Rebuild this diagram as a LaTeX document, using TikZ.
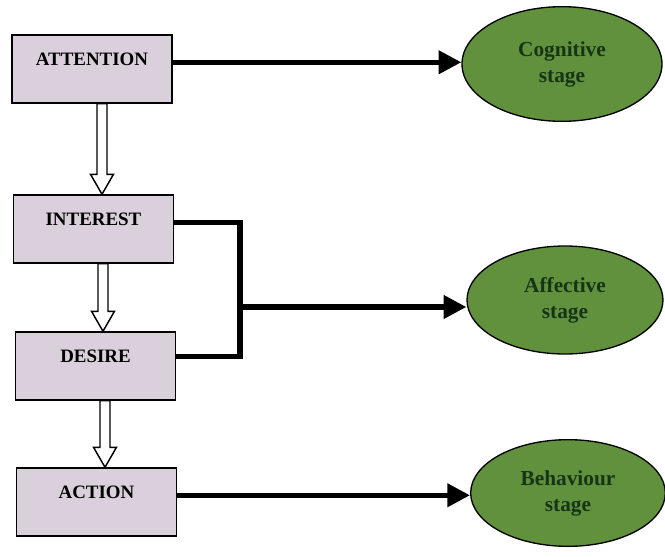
\documentclass[tikz,border=0pt]{standalone}
\usepackage{fontspec}
\setmainfont{Liberation Serif}
\usetikzlibrary{shapes.geometric,arrows.meta,calc}

\definecolor{boxfill}{RGB}{218,208,220}
\definecolor{stagefill}{RGB}{98,145,62}
\definecolor{stagetext}{RGB}{22,52,22}

\tikzset{every picture/.style={line width=0.75pt}}

\begin{document}
\begin{tikzpicture}[x=0.75pt,y=0.75pt,yscale=-1,xscale=1,
  step box/.style={draw, fill=boxfill, line width=1.1pt, minimum width=120pt, minimum height=51pt,
    inner sep=0pt, font=\bfseries\fontsize{14.2}{17}\selectfont, text height=10pt, text depth=15.5pt},
  stage/.style={ellipse, draw, fill=stagefill, line width=1pt, inner sep=0pt, align=center,
    text=stagetext, font=\bfseries\fontsize{16}{19.5}\selectfont},
  link/.style={line width=3.8pt},
  tip/.style={link, -{Triangle[length=17pt,width=17pt]}},
  hollow/.style={draw, fill=white, line width=1.1pt, to path={
    ($(\tikztotarget |- \tikztostart)+(#1+5,0)$) -- ($(\tikztotarget)+(#1+5,-20)$)
    -- ($(\tikztotarget)+(#1+11.5,-20)$) -- ($(\tikztotarget)+(#1,0)$)
    -- ($(\tikztotarget)+(#1-11.5,-20)$) -- ($(\tikztotarget)+(#1-5,-20)$)
    -- ($(\tikztotarget |- \tikztostart)+(#1-5,0)$) -- cycle}}]
%set diagram frame: 665 x 557
\useasboundingbox (0,0) rectangle (665,557);

%Shape: Rectangle (steps)
\node [step box] (att) at (92,69) {ATTENTION};
\node [step box] (int) at (93.5,229) {INTEREST};
\node [step box] (des) at (95.5,366) {DESIRE};
\node [step box] (act) at (96.5,502) {ACTION};

%Shape: Ellipse (stages)
\node [stage, minimum width=150pt, minimum height=86pt] (cog) at (562,64) {Cognitive\\stage};
\node [stage, minimum width=147pt, minimum height=81pt] (aff) at (565,300) {Affective\\stage};
\node [stage, minimum width=146pt, minimum height=80pt] (beh) at (568,493) {Behaviour\\stage};

%Hollow arrows between steps
\path [hollow=8.5] (att.south) to (int.north);
\path [hollow=7.5] (int.south) to (des.north);
\path [hollow=8.5] (des.south) to (act.north);

%Bracket joining interest and desire
\coordinate (jn) at (240,307);
\draw [link] (int.mid east) -| (jn) |- ([yshift=-7pt]des.east);

%Thick arrows to stages
\draw [tip] (att.mid east) -- (att.mid east -| cog.west);
\draw [tip] (jn) -- (jn -| aff.west);
\draw [tip] (act.mid east) -- (act.mid east -| beh.west);

\end{tikzpicture}
\end{document}
